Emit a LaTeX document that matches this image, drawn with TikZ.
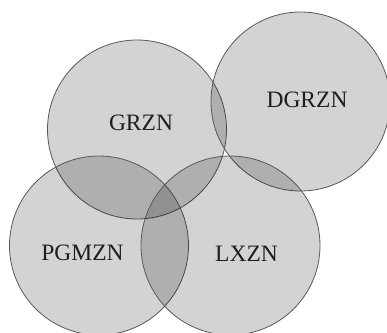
\documentclass[tikz,border=0pt]{standalone}
\usepackage{fontspec}
\setmainfont{Liberation Serif}
\definecolor{edgec}{RGB}{88,88,90}
\definecolor{txtc}{RGB}{30,30,30}
\begin{document}
\begin{tikzpicture}[x=1pt,y=-1pt,
  zone/.style={circle,inner sep=0pt,minimum size=179pt,draw=edgec,line width=0.8pt,fill=black,fill opacity=0.172,draw opacity=1},
  lbl/.style={font=\fontsize{23.5}{26}\selectfont,text=txtc,inner sep=0pt}]
\useasboundingbox (0,0) rectangle (387,332);
\node[zone] (grzn) at (137,129.5) {};
\node[zone] (dgrzn) at (300.5,101.5) {};
\node[zone] (pgmzn) at (99,245.5) {};
\node[zone] (lxzn) at (230.5,245.5) {};
\node[lbl] (tg) at (141,122.5) {GRZN};
\node[lbl] (td) at (307,100) {DGRZN};
\node[lbl] (tp) at (82.5,253) {PGMZN};
\node[lbl] (tl) at (246.5,253.5) {LXZN};
\end{tikzpicture}
\end{document}
